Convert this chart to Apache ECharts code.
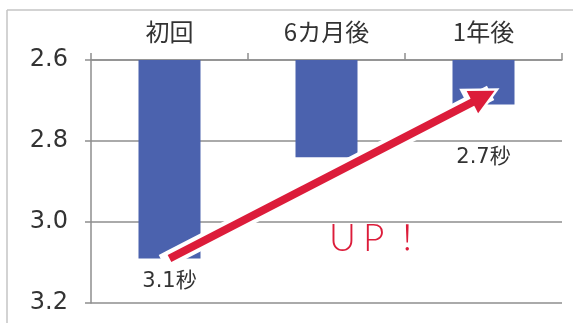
<!DOCTYPE html>
<html>
<head>
<meta charset="utf-8">
<script src="https://cdn.jsdelivr.net/npm/echarts@6/dist/echarts.min.js"></script>
<style>
  html, body { margin: 0; padding: 0; background: #fff; }
  #chart { width: 573px; height: 323px; }
</style>
</head>
<body>
<div id="chart"></div>
<script>
// Reaction time per check-up (seconds, smaller is better)
const categories = ['初回', '6カ月後', '1年後'];
const seconds = [3.09, 2.84, 2.71];
const valueLabels = ['3.1秒', '', '2.7秒'];
const yTicks = [2.6, 2.8, 3.0, 3.2];
// improvement arrow: from the first result to the latest one
const arrowFrom = [0, 3.09];
const arrowTo = [2, 2.69];
const upText = ['U', 'P', '！'];

const RED = '#dc1c3a';
const BLUE = '#4b62ae';
const GRID = '#8e8e8e';
const TXT = '#333333';
const NUM_FONT = '"DejaVu Sans", "Noto Sans CJK JP", sans-serif';
const JP_FONT = '"Noto Sans CJK JP", "DejaVu Sans", sans-serif';
const UP_FONT = 'Lato, "Noto Sans CJK JP", sans-serif';

const chart = echarts.init(document.getElementById('chart'));

const labelDistance = [13, 0, 42];

chart.setOption({
  animation: false,
  backgroundColor: '#fff',
  grid: { left: 91, right: 11, top: 60, bottom: 20, containLabel: false },
  xAxis: {
    type: 'category',
    position: 'top',
    data: categories,
    axisLine: { show: true, lineStyle: { color: GRID, width: 1.5 } },
    axisTick: { show: true, length: 7, lineStyle: { color: GRID, width: 1.5 } },
    axisLabel: { color: TXT, fontSize: 24, fontFamily: JP_FONT, margin: 16 }
  },
  yAxis: {
    type: 'value',
    inverse: true,
    min: yTicks[0],
    max: yTicks[yTicks.length - 1],
    interval: 0.2,
    axisLine: { show: true, lineStyle: { color: GRID, width: 1.5 } },
    axisTick: { show: true, length: 6, lineStyle: { color: GRID, width: 1.5 } },
    splitLine: { show: true, lineStyle: { color: GRID, width: 1.5 } },
    axisLabel: {
      color: TXT, fontSize: 24, fontFamily: NUM_FONT, margin: 23,
      formatter: v => v.toFixed(1)
    }
  },
  series: [
    {
      type: 'bar',
      barWidth: 62,
      itemStyle: { color: BLUE },
      data: seconds.map((v, i) => ({
        value: v,
        label: {
          show: valueLabels[i] !== '',
          position: 'bottom',
          distance: labelDistance[i],
          formatter: () => valueLabels[i],
          color: TXT,
          fontSize: 21,
          fontFamily: NUM_FONT
        }
      }))
    },
    {
      // white halo under the arrow
      type: 'lines',
      coordinateSystem: 'cartesian2d',
      z: 5,
      symbol: ['none', 'triangle'],
      symbolSize: [36, 36],
      lineStyle: { color: '#fff', width: 16, opacity: 1, cap: 'square' },
      data: [{ coords: [arrowFrom, arrowTo] }]
    },
    {
      type: 'lines',
      coordinateSystem: 'cartesian2d',
      z: 6,
      symbol: ['none', 'triangle'],
      symbolSize: [25, 25],
      lineStyle: { color: RED, width: 8, opacity: 1 },
      data: [{ coords: [arrowFrom, arrowTo] }]
    }
  ],
  graphic: [
    { type: 'line', shape: { x1: 7, y1: 10, x2: 573, y2: 10 }, style: { stroke: '#c4c4c4', lineWidth: 1.5 } },
    { type: 'line', shape: { x1: 7, y1: 10, x2: 7, y2: 323 }, style: { stroke: '#c4c4c4', lineWidth: 1.5 } },
    {
      type: 'text', left: 329, top: 221, z: 10,
      style: {
        text: '{u|' + upText[0] + '}{p|' + upText[1] + '}{e|' + upText[2] + '}',
        fill: RED,
        fontSize: 37,
        fontWeight: 300,
        fontFamily: UP_FONT,
        rich: {
          u: { fill: RED, fontSize: 37, fontWeight: 300, fontFamily: UP_FONT, padding: [0, 7, 0, 0] },
          p: { fill: RED, fontSize: 37, fontWeight: 300, fontFamily: UP_FONT, padding: [0, 6, 0, 0] },
          e: { fill: RED, fontSize: 34, fontWeight: 300, fontFamily: UP_FONT }
        }
      }
    }
  ]
});
</script>
</body>
</html>
